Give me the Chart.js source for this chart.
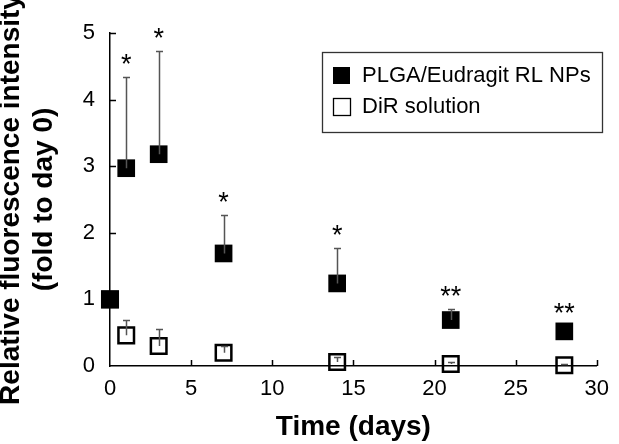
<!DOCTYPE html>
<html>
<head>
<meta charset="utf-8">
<script src="https://cdn.jsdelivr.net/npm/chart.js@4/dist/chart.umd.min.js"></script>
<style>
  html, body { margin: 0; padding: 0; background: #fff; }
</style>
</head>
<body>
<canvas id="chart" width="619" height="444"></canvas>
<script>
// data
const days = [0, 1, 3, 7, 14, 21, 28];
const npMean = [1.0, 2.97, 3.18, 1.69, 1.24, 0.69, 0.52];
const npErrTop = [1.0, 4.34, 4.73, 2.26, 1.77, 0.85, 0.52];
const dirMean = [1.0, 0.46, 0.30, 0.20, 0.06, 0.03, 0.01];
const dirErrTop = [1.0, 0.69, 0.55, 0.30, 0.14, 0.06, 0.03];
const stars = ['', '*', '*', '*', '*', '**', '**'];
const xTicks = [0, 5, 10, 15, 20, 25, 30];
const yTicks = [0, 1, 2, 3, 4, 5];

const FONT = "'Liberation Sans', Arial, sans-serif";

function toPoints(xs, ys) {
    return xs.map((x, i) => ({ x: x, y: ys[i] }));
}

// error bars (upper only), drawn over the markers
const errorBars = {
    id: 'errorBars',
    afterDatasetsDraw(chart) {
        const ctx = chart.ctx;
        const xs = chart.scales.x, ys = chart.scales.y;
        const tops = [npErrTop, dirErrTop];
        const means = [npMean, dirMean];
        ctx.save();
        ctx.strokeStyle = '#555';
        ctx.lineWidth = 1.5;
        for (let d = 0; d < 2; d++) {
            for (let i = 0; i < days.length; i++) {
                if (tops[d][i] <= means[d][i] + 0.005) continue;
                const px = Math.round(xs.getPixelForValue(days[i])) + 0.5;
                const p0 = ys.getPixelForValue(means[d][i]);
                const p1 = Math.round(ys.getPixelForValue(tops[d][i])) + 0.5;
                ctx.beginPath();
                ctx.moveTo(px, p0);
                ctx.lineTo(px, p1);
                ctx.moveTo(px - 3.5, p1);
                ctx.lineTo(px + 3.5, p1);
                ctx.stroke();
            }
        }
        // significance stars
        ctx.fillStyle = '#000';
        ctx.font = '27px ' + FONT;
        ctx.textAlign = 'center';
        ctx.textBaseline = 'alphabetic';
        for (let i = 0; i < days.length; i++) {
            if (!stars[i]) continue;
            const px = xs.getPixelForValue(days[i]);
            const top = Math.min(ys.getPixelForValue(npErrTop[i]), ys.getPixelForValue(npMean[i]) - 5);
            ctx.fillText(stars[i], px, top - 4);
        }
        ctx.restore();
    }
};

// inward tick marks
const innerTicks = {
    id: 'innerTicks',
    afterDraw(chart) {
        const ctx = chart.ctx;
        const xs = chart.scales.x, ys = chart.scales.y;
        const a = chart.chartArea;
        ctx.save();
        ctx.strokeStyle = '#000';
        ctx.lineWidth = 1.5;
        ctx.beginPath();
        xTicks.forEach(v => {
            if (v === 0) return;
            const px = Math.round(xs.getPixelForValue(v)) + 0.5;
            ctx.moveTo(px, a.bottom);
            ctx.lineTo(px, a.bottom - 6);
        });
        yTicks.forEach(v => {
            if (v === 0) return;
            const py = Math.round(ys.getPixelForValue(v)) + 0.5;
            ctx.moveTo(a.left, py);
            ctx.lineTo(a.left + 6, py);
        });
        ctx.stroke();
        ctx.restore();
    }
};

// boxed legend in the top right of the plot
const boxLegend = {
    id: 'boxLegend',
    afterDraw(chart) {
        const ctx = chart.ctx;
        ctx.save();
        ctx.strokeStyle = '#333';
        ctx.lineWidth = 1.3;
        ctx.strokeRect(322.5, 52.5, 280, 80);
        ctx.font = '22px ' + FONT;
        ctx.textBaseline = 'middle';
        ctx.textAlign = 'left';
        const rows = [75, 106];
        chart.data.datasets.forEach((ds, i) => {
            const y = rows[i];
            if (i === 0) {
                ctx.fillStyle = '#000';
                ctx.fillRect(333, y - 8, 17, 17);
            } else {
                ctx.strokeStyle = '#000';
                ctx.lineWidth = 1.3;
                ctx.strokeRect(333.5, y - 7.5, 17, 17);
            }
            ctx.fillStyle = '#000';
            ctx.fillText(ds.label, 362, y + 1);
        });
        ctx.restore();
    }
};

new Chart(document.getElementById('chart'), {
    type: 'scatter',
    data: {
        datasets: [{
            label: 'PLGA/Eudragit RL NPs',
            data: toPoints(days, npMean),
            pointStyle: 'rect',
            pointRadius: 12.5,
            pointHoverRadius: 12.5,
            backgroundColor: '#000',
            borderColor: '#000',
            borderWidth: 0,
            clip: false
        }, {
            label: 'DiR solution',
            data: toPoints(days, dirMean),
            pointStyle: 'rect',
            pointRadius: 11,
            pointHoverRadius: 11,
            backgroundColor: 'rgba(255,255,255,0)',
            borderColor: '#000',
            borderWidth: 2.5,
            clip: false
        }]
    },
    options: {
        responsive: false,
        animation: false,
        devicePixelRatio: 1,
        layout: { padding: { top: 33, right: 12, left: 0, bottom: 0 } },
        plugins: {
            legend: { display: false },
            tooltip: { enabled: false }
        },
        scales: {
            x: {
                type: 'linear',
                min: 0, max: 30,
                afterBuildTicks: s => { s.ticks = xTicks.map(v => ({ value: v })); },
                afterFit: s => { s.height = 78; },
                ticks: { font: { size: 22, family: FONT }, color: '#000', padding: 10, maxRotation: 0 },
                grid: { display: true, drawOnChartArea: false, drawTicks: false },
                border: { color: '#000', width: 1.5 },
                title: {
                    display: true, text: 'Time (days)', color: '#000',
                    font: { size: 28, weight: 'bold', family: FONT, lineHeight: 1.2 },
                    padding: { top: 0, bottom: 0 }
                }
            },
            y: {
                type: 'linear',
                min: 0, max: 5,
                afterBuildTicks: s => { s.ticks = yTicks.map(v => ({ value: v })); },
                afterFit: s => { s.width = 110; },
                ticks: { font: { size: 22, family: FONT }, color: '#000', padding: 15 },
                grid: { display: true, drawOnChartArea: false, drawTicks: false },
                border: { color: '#000', width: 1.5 },
                title: {
                    display: true,
                    text: ['Relative fluorescence intensity', '(fold to day 0)'],
                    color: '#000',
                    font: { size: 28, weight: 'bold', family: FONT, lineHeight: 1.2 },
                    padding: { top: -6, bottom: 0 }
                }
            }
        }
    },
    plugins: [errorBars, innerTicks, boxLegend]
});
</script>
</body>
</html>
